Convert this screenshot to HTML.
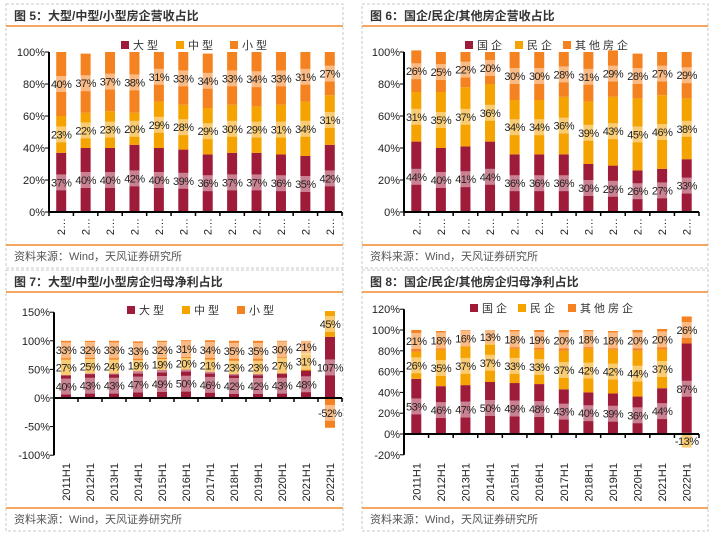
<!DOCTYPE html>
<html><head><meta charset="utf-8"><style>
body{margin:0;background:#fff;}
svg{display:block;font-family:"Liberation Sans","Noto Sans CJK SC",sans-serif;}
</style></head><body>
<svg id="s" width="712" height="536" viewBox="0 0 712 536"></svg>
<script>
const categoriesShort = ["2…","2…","2…","2…","2…","2…","2…","2…","2…","2…","2…","2…"];
const categoriesYear = ["2011H1","2012H1","2013H1","2014H1","2015H1","2016H1","2017H1","2018H1","2019H1","2020H1","2021H1","2022H1"];
const c5Large = [37,40,40,42,40,39,36,37,37,36,35,42];
const c5Mid = [23,22,23,20,29,28,29,30,29,31,34,31];
const c5Small = [40,37,37,38,31,33,34,33,34,33,31,27];
const c6State = [44,40,41,44,36,36,36,30,29,26,27,33];
const c6Private = [31,35,37,36,34,34,36,39,43,45,46,38];
const c6Other = [26,25,22,20,30,30,28,31,29,28,27,29];
const c7Large = [40,43,43,47,49,50,46,42,42,43,48,107];
const c7Mid = [27,25,24,19,19,20,21,23,23,27,31,45];
const c7Small = [33,32,33,33,32,31,34,35,35,30,21,-52];
const c8State = [53,46,47,50,49,48,43,40,39,36,44,87];
const c8Private = [26,35,37,37,33,33,37,42,42,44,37,-13];
const c8Other = [21,18,16,13,18,19,20,18,18,20,20,26];
const ticks5 = [0,20,40,60,80,100];
const ticks7 = [-100,-50,0,50,100,150];
const ticks8 = [-20,0,20,40,60,80,100,120];
const names5 = ["大型","中型","小型"];
const names6 = ["国企","民企","其他房企"];

const COLORS=["#9E1B3A","#F5A300","#F58220"];
const NS="http://www.w3.org/2000/svg";
const svg=document.getElementById('s');
function mk(tag,attrs,parent,name){const e=document.createElementNS(NS,tag);for(const k in attrs)e.setAttribute(k,attrs[k]);
 
 
 (parent||svg).appendChild(e);return e;}

function panel(p){
 const g=mk('g',{},svg,p.id);
 mk('rect',{x:p.x0,y:p.y0,width:p.x1-p.x0,height:p.y1-p.y0,fill:'none',stroke:'#c8c8c8','stroke-dasharray':'3,2'},g,'panel-border');
 mk('line',{x1:p.x0,x2:p.x1,y1:p.y0+22,y2:p.y0+22,stroke:'#F08A2C','stroke-width':1.5},g,'title-rule');
 mk('line',{x1:p.x0,x2:p.x1,y1:p.y1-23,y2:p.y1-23,stroke:'#F08A2C','stroke-width':1.5},g,'footer-rule');
 const t=mk('text',{x:p.x0+8,y:p.y0+16,'font-size':12,'font-weight':'bold',fill:'#333'},g,'chart-title');t.textContent=p.title;
 const s=mk('text',{x:p.x0+8,y:p.y1-8,'font-size':11,fill:'#555'},g,'source-note');s.textContent='资料来源：Wind，天风证券研究所';
 const Y=v=>p.yZero-(v)*p.ppu;
 const n=p.cats.length, step=(p.axR-p.axL)/n;
 const X=i=>p.axL+step*(i+0.5);
 // y ticks
 p.ticks.forEach(v=>{
  const tt=mk('text',{x:p.axL-4,y:Y(v)+4,'font-size':11,fill:'#222','text-anchor':'end'},g,'y-tick-label');tt.textContent=v+'%';
  mk('line',{x1:p.axL-4,x2:p.axL,y1:Y(v),y2:Y(v),stroke:'#000'},g,'y-tick');
 });
 // bars
 const segs=p.series;
 for(let i=0;i<n;i++){
  let pos=0,neg=0;
  segs.forEach((arr,si)=>{
   const v=arr[i];let a,b;
   if(v>=0){a=pos;b=pos+v;pos=b;}else{a=neg;b=neg+v;neg=b;}
   const yt=Y(Math.max(a,b)),yb=Y(Math.min(a,b));
   mk('rect',{x:X(i)-5,y:yt,width:10,height:yb-yt,fill:COLORS[si]},g,'bar-'+p.keys[si]+'-'+i);
   const ym=(yt+yb)/2;
   mk('rect',{x:X(i)-10,y:ym-8,width:20,height:16,fill:'#fff','fill-opacity':0.45},g,'label-bg');
   const lt=mk('text',{x:X(i),y:ym+4,'font-size':11,fill:'#222','text-anchor':'middle','letter-spacing':'-0.5'},g,'value-label');lt.textContent=v+'%';
  });
 }
 // axes
 mk('line',{x1:p.axL,x2:p.axL,y1:Y(p.ticks[p.ticks.length-1]),y2:Y(p.ticks[0]),stroke:'#000','stroke-width':2},g,'y-axis');
 mk('line',{x1:p.axL,x2:p.axR,y1:p.yZero,y2:p.yZero,stroke:'#000','stroke-width':2},g,'x-axis');
 for(let i=0;i<=n;i++){mk('line',{x1:p.axL+step*i,x2:p.axL+step*i,y1:p.yZero,y2:p.yZero+4,stroke:'#000','stroke-width':1.5},g,'x-tick');}
 p.cats.forEach((c,i)=>{
  const tx=X(i)+4, ty=p.labelTop;
  const ct=mk('text',{x:tx,y:ty,'font-size':11,fill:'#222','text-anchor':'end',transform:`rotate(-90 ${tx} ${ty})`},g,'x-tick-label');ct.textContent=c;
 });
 // legend
 p.legendX.forEach((lx,k)=>{
  mk('rect',{x:lx,y:p.legendY-5,width:8,height:8,fill:COLORS[k]},g,'legend-swatch');
  const lt=mk('text',{x:lx+12,y:p.legendY+3,'font-size':11,fill:'#333','letter-spacing':'3'},g,'legend-entry');lt.textContent=p.names[k];
 });
}
panel({id:'fig5',x0:6,y0:4,x1:343,y1:268,title:'图 5：大型/中型/小型房企营收占比',axL:49,axR:342,yZero:212,ppu:1.6,ticks:ticks5,cats:categoriesShort,labelTop:218,series:[c5Large,c5Mid,c5Small],keys:['large','mid','small'],names:names5,legendX:[121,176,230],legendY:46});
panel({id:'fig6',x0:362,y0:4,x1:708,y1:268,title:'图 6：国企/民企/其他房企营收占比',axL:404,axR:699,yZero:212,ppu:1.6,ticks:ticks5,cats:categoriesShort,labelTop:218,series:[c6State,c6Private,c6Other],keys:['state','private','other'],names:names6,legendX:[465,515,563],legendY:46});
panel({id:'fig7',x0:6,y0:270,x1:343,y1:531,title:'图 7：大型/中型/小型房企归母净利占比',axL:54,axR:342,yZero:398,ppu:0.572,ticks:ticks7,cats:categoriesYear,labelTop:463,series:[c7Large,c7Mid,c7Small],keys:['large','mid','small'],names:names5,legendX:[127,182,237],legendY:311});
panel({id:'fig8',x0:362,y0:270,x1:708,y1:531,title:'图 8：国企/民企/其他房企归母净利占比',axL:404,axR:699,yZero:434,ppu:1.04,ticks:ticks8,cats:categoriesYear,labelTop:463,series:[c8State,c8Private,c8Other],keys:['state','private','other'],names:names6,legendX:[470,518,568],legendY:309});
</script>
</body></html>
